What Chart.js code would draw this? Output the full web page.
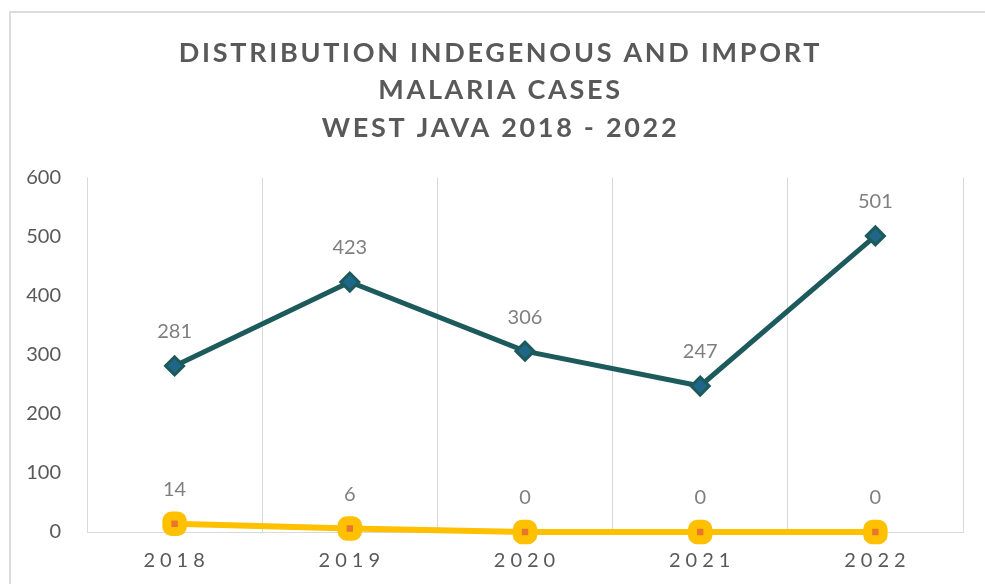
<!DOCTYPE html>
<html>
<head>
<meta charset="utf-8">
<title>Malaria cases West Java</title>
<script src="https://cdn.jsdelivr.net/npm/chart.js@4.4.1/dist/chart.umd.min.js"></script>
<style>
  html, body { margin: 0; padding: 0; background: #fff; overflow: hidden; }
  #frame { position: absolute; left: 9px; top: 11px; width: 1000px; height: 600px; border: 2px solid #dcdcdc; }
  #wrap { position: absolute; left: 0; top: 0; width: 985px; height: 584px; }
</style>
</head>
<body>
<div id="frame"></div>
<div id="wrap"><canvas id="malaria" width="985" height="584"></canvas></div>
<script>
const years = ['2018', '2019', '2020', '2021', '2022'];
const importCases = [281, 423, 306, 247, 501];
const indigenousCases = [14, 6, 0, 0, 0];
const titleLines = [
  'DISTRIBUTION INDEGENOUS AND IMPORT',
  'MALARIA CASES',
  'WEST JAVA 2018 - 2022'
];

const FONT = 'Lato, "Open Sans", sans-serif';

// letter spacing (and a small shift) for the title and the year labels
const spacedText = {
  id: 'spacedText',
  afterLayout(chart) {
    if (chart.$spaced) return;
    chart.$spaced = true;
    const wrap = (obj, fn, spacing, dx) => {
      const orig = obj[fn];
      obj[fn] = function (...args) {
        const ctx = chart.ctx;
        ctx.save();
        ctx.letterSpacing = spacing;
        ctx.translate(dx, 0);
        orig.apply(this, args);
        ctx.restore();
      };
    };
    wrap(chart.titleBlock, 'draw', '2.7px', 10);
    wrap(chart.scales.x, 'drawLabels', '5px', 2);
  }
};

// value above every point
const valueLabels = {
  id: 'valueLabels',
  afterDatasetsDraw(chart) {
    const ctx = chart.ctx;
    ctx.save();
    ctx.font = '20px ' + FONT;
    ctx.fillStyle = '#7f7f7f';
    ctx.textAlign = 'center';
    ctx.textBaseline = 'middle';
    chart.data.datasets.forEach((ds, i) => {
      chart.getDatasetMeta(i).data.forEach((pt, j) => {
        ctx.fillText(String(ds.data[j]), pt.x, pt.y - 34);
      });
    });
    ctx.restore();
  }
};

new Chart(document.getElementById('malaria'), {
  type: 'line',
  data: {
    labels: years,
    datasets: [{
      label: 'Import',
      data: importCases,
      borderColor: '#1d5a5c',
      borderWidth: 5,
      tension: 0,
      pointStyle: 'rectRot',
      pointRadius: 9,
      pointBackgroundColor: '#1f6689',
      pointBorderColor: '#1d5a5c',
      pointBorderWidth: 3,
      clip: false
    }, {
      label: 'Indigenous',
      data: indigenousCases,
      borderColor: '#ffc000',
      borderWidth: 6,
      tension: 0,
      pointStyle: 'rectRounded',
      pointRadius: 9,
      pointBackgroundColor: '#e8772e',
      pointBorderColor: '#ffc000',
      pointBorderWidth: 9,
      clip: false
    }]
  },
  options: {
    responsive: false,
    devicePixelRatio: 1,
    animation: false,
    layout: { padding: { left: 18, right: 22, top: 34, bottom: 0 } },
    plugins: {
      legend: { display: false },
      tooltip: { enabled: false },
      title: {
        display: true,
        text: titleLines,
        color: '#595959',
        font: { family: FONT, size: 27, weight: 'bold', lineHeight: 1.4 },
        padding: { top: 0, bottom: 30 }
      }
    },
    scales: {
      x: {
        offset: true,
        grid: { display: true, offset: true, color: '#d9d9d9', lineWidth: 1, drawTicks: false },
        border: { display: true, color: '#d9d9d9', width: 1 },
        ticks: { color: '#595959', font: { family: FONT, size: 20 }, padding: 17 },
        afterFit(s) { s.height = 52; }
      },
      y: {
        min: 0,
        max: 600,
        grid: { display: false },
        border: { display: false },
        ticks: { stepSize: 100, color: '#595959', font: { family: FONT, size: 20 }, padding: 18 },
        afterFit(s) { s.width = 69; }
      }
    }
  },
  plugins: [spacedText, valueLabels]
});
</script>
</body>
</html>
